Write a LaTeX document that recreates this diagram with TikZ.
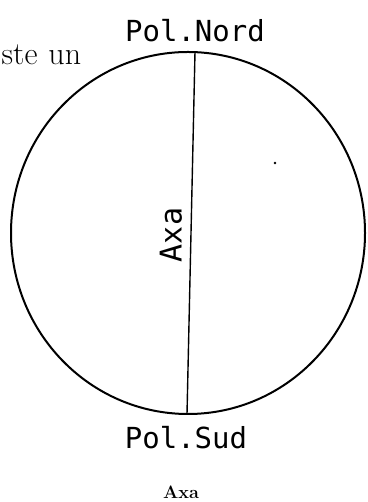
\documentclass[tikz,border=0pt]{standalone}
\usepackage{fontspec}
\newfontfamily\plotfont{DejaVu Sans Mono}
\usetikzlibrary{positioning}

\begin{document}
\begin{tikzpicture}[x=1pt, y=1pt,
    every node/.style={inner sep=0pt},
    pol/.style={font=\plotfont\fontsize{29}{29}\selectfont},
    globe/.style={line width=2pt},
    axa/.style={line width=1.4pt}
]
    \useasboundingbox (0,0) rectangle (367,502);
    \coordinate (centru) at (188,269);
    \coordinate (nord)   at (195,450);
    \coordinate (sud)    at (187,88);
    \draw[globe] (centru) ellipse [x radius=177, y radius=181];
    \draw[axa] (nord) -- (sud);
    \node[pol, anchor=base] (nordlbl) at (195,460) {Pol.Nord};
    \node[pol, anchor=base] (sudlbl)  at (186,53)  {Pol.Sud};
    \node[pol, rotate=90, font=\plotfont\fontsize{30}{30}\selectfont] (axalbl) at (171,267) {Axa};
    \node[anchor=base, font=\fontsize{18}{18}\selectfont\bfseries] (caption) at (181,4) {Axa};
    \node[anchor=base west, font=\fontsize{32}{34}\selectfont] (text) at (1.5,437) {ste\hspace{11pt}un};
    \fill (275,339) circle [radius=1.3pt];
\end{tikzpicture}
\end{document}
